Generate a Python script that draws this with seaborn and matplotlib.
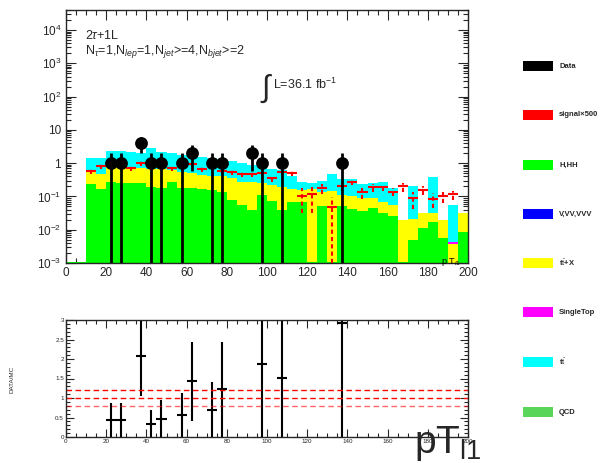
import numpy as np
import pandas as pd
import matplotlib
matplotlib.use("Agg")
import matplotlib.pyplot as plt
import matplotlib.ticker as mticker
from matplotlib.patches import Rectangle
import seaborn as sns

# 40 bins of 5 GeV in pT of leading lepton
bin_edges = list(range(0, 205, 5))
bin_centers = np.arange(2.5, 200, 5)

# stacked backgrounds (bin 0..39)
h_hh = [0.0011, 0.0011, 0.23, 0.165, 0.27, 0.25, 0.25, 0.245, 0.19, 0.18,
        0.27, 0.18, 0.177, 0.17, 0.16, 0.14, 0.079, 0.057, 0.04, 0.11,
        0.075, 0.04, 0.067, 0.067, 0.0011, 0.05, 0.0011, 0.053, 0.042, 0.036,
        0.044, 0.031, 0.025, 0.0011, 0.005, 0.011, 0.0167, 0.0056, 0.0, 0.0083]
v_vv_vvv = [0.0, 0.0, 0.0, 0.0, 0.0, 0.0, 0.0, 0.0, 0.0, 0.0,
            0.0, 0.0, 0.0, 0.0, 0.0, 0.0, 0.0, 0.0, 0.0, 0.0,
            0.0, 0.0, 0.0, 0.0, 0.0, 0.0, 0.0, 0.0, 0.0, 0.0,
            0.0, 0.0, 0.0, 0.0, 0.0, 0.0, 0.0, 0.0, 0.0, 0.0]
ttx = [0.0, 0.0, 0.33, 0.315, 0.49, 0.51, 0.46, 0.465, 0.48, 0.49,
       0.37, 0.38, 0.323, 0.28, 0.24, 0.26, 0.271, 0.223, 0.24, 0.14,
       0.145, 0.15, 0.103, 0.093, 0.169, 0.09, 0.149, 0.054, 0.058, 0.054,
       0.046, 0.036, 0.032, 0.019, 0.016, 0.021, 0.0153, 0.0134, 0.0037, 0.0227]
single_top = [0.0, 0.0, 0.0, 0.0, 0.0, 0.0, 0.0, 0.0, 0.0, 0.0,
              0.0, 0.0, 0.0, 0.0, 0.0, 0.0, 0.0, 0.0, 0.0, 0.0,
              0.0, 0.0, 0.0, 0.0, 0.0, 0.0, 0.0, 0.0, 0.0, 0.0,
              0.0, 0.0, 0.0, 0.0, 0.0, 0.0, 0.0, 0.0, 0.0006, 0.0]
ttbar = [0.0, 0.0, 0.9, 0.95, 1.64, 1.64, 1.39, 1.29, 2.28, 1.53,
         1.41, 1.22, 1.09, 1.03, 1.01, 0.87, 0.83, 0.72, 0.62, 0.55,
         0.46, 0.43, 0.23, 0.12, 0.09, 0.16, 0.33, 0.233, 0.23, 0.15,
         0.16, 0.20, 0.123, 0.0, 0.19, 0.0, 0.34, 0.0, 0.051, 0.0]
qcd = [0.0, 0.0, 0.0, 0.0, 0.0, 0.0, 0.0, 0.0, 0.0, 0.0,
       0.0, 0.0, 0.0, 0.0, 0.0, 0.0, 0.0, 0.0, 0.0, 0.0,
       0.0, 0.0, 0.0, 0.0, 0.0, 0.0, 0.0, 0.0, 0.0, 0.0,
       0.0, 0.0, 0.0, 0.0, 0.0, 0.0, 0.0, 0.0, 0.0, 0.0]

# signal x500 (red crosses)
signal_x500 = [np.nan, np.nan, 0.6, 0.81, 0.95, 0.95, 0.72, 1.0, 0.97, 0.95,
               0.72, 1.0, 0.97, 0.67, 0.89, 0.6, 0.56, 0.48, 0.48, 0.51,
               0.36, 0.53, 0.51, 0.106, 0.117, 0.177, 0.047, 0.2, 0.28, 0.134,
               0.19, 0.19, 0.14, 0.2, 0.088, 0.157, 0.084, 0.1, 0.115, np.nan]
signal_err = [0.0, 0.0, 0.12, 0.15, 0.18, 0.18, 0.14, 0.18, 0.18, 0.18,
              0.14, 0.18, 0.18, 0.13, 0.16, 0.12, 0.11, 0.1, 0.1, 0.1,
              0.08, 0.1, 0.1, 0.075, 0.085, 0.06, 0.046, 0.05, 0.06, 0.05,
              0.05, 0.04, 0.04, 0.06, 0.045, 0.05, 0.04, 0.035, 0.035, 0.0]

# data
data_pt = [22.5, 27.5, 37.5, 42.5, 47.5, 57.5, 62.5, 72.5, 77.5, 92.5, 97.5, 107.5, 137.5]
data_n = [1, 1, 4, 1, 1, 1, 2, 1, 1, 2, 1, 1, 1]

# data / MC
ratio_pt = [22.5, 27.5, 37.5, 42.5, 47.5, 57.5, 62.5, 72.5, 77.5, 97.5, 107.5, 137.5]
ratio_val = [0.43, 0.43, 2.07, 0.34, 0.47, 0.56, 1.43, 0.70, 1.22, 1.88, 1.52, 2.92]
ratio_err = [0.43, 0.43, 1.03, 0.34, 0.47, 0.56, 1.01, 0.70, 1.22, 1.88, 1.52, 2.92]

sns.set_style("ticks")
plt.rcParams["font.family"] = ["Liberation Sans", "DejaVu Sans"]
plt.rcParams["mathtext.fontset"] = "custom"
plt.rcParams["mathtext.rm"] = "Liberation Sans"
plt.rcParams["mathtext.it"] = "Liberation Sans:italic"
plt.rcParams["mathtext.bf"] = "Liberation Sans:bold"

W, H = 603, 463
fig = plt.figure(figsize=(W / 100, H / 100), dpi=100)
ax = fig.add_axes([66 / W, 1 - 263 / H, 402 / W, 253 / H])
axr = fig.add_axes([66 / W, 1 - 437 / H, 402 / W, 117 / H])

procs = ["QCD", "ttbar", "SingleTop", "ttX", "V,VV,VVV", "H,HH"]  # top -> bottom
colors = {"QCD": "#59d659", "ttbar": "#00ffff", "SingleTop": "#ff00ff",
          "ttX": "#ffff00", "V,VV,VVV": "#0000ff", "H,HH": "#00ff00"}
vals = {"QCD": qcd, "ttbar": ttbar, "SingleTop": single_top,
        "ttX": ttx, "V,VV,VVV": v_vv_vvv, "H,HH": h_hh}
bkg = pd.DataFrame({
    "pt": np.concatenate([bin_centers for p in procs]),
    "w": np.concatenate([vals[p] for p in procs]),
    "proc": np.repeat(procs, len(bin_centers)),
})

sns.histplot(data=bkg, x="pt", weights="w", hue="proc", hue_order=procs,
             palette=colors, multiple="stack", bins=bin_edges, element="bars",
             alpha=1, linewidth=0, antialiased=False, legend=False, ax=ax)
ax.set_yscale("log")

# signal crosses
sig = ax.errorbar(bin_centers, signal_x500, xerr=2.5, yerr=signal_err, fmt="none",
                  ecolor="red", elinewidth=1.5, capsize=0, zorder=4)
sig[2][1].set_linestyle((0, (2, 1.5)))

# data
ax.errorbar(data_pt, data_n, yerr=np.sqrt(data_n), fmt="none", ecolor="black",
            elinewidth=2.0, capsize=0, zorder=5)
sns.scatterplot(x=data_pt, y=data_n, color="black", s=85, marker="o",
                edgecolor="black", linewidth=0, zorder=6, ax=ax)

ax.set_xlim(0, 200)
ax.set_ylim(1e-3, 4e4)
ax.set_xlabel("")
ax.set_ylabel("")
ax.set_yticks([1e-3, 1e-2, 1e-1, 1, 10, 1e2, 1e3, 1e4])
ax.set_yticklabels([r"$10^{-3}$", r"$10^{-2}$", r"$10^{-1}$", "1", "10",
                    r"$10^{2}$", r"$10^{3}$", r"$10^{4}$"])
ax.yaxis.set_minor_locator(mticker.LogLocator(base=10, subs=np.arange(2, 10), numticks=100))
ax.yaxis.set_minor_formatter(mticker.NullFormatter())
ax.xaxis.set_major_locator(mticker.MultipleLocator(20))
ax.xaxis.set_minor_locator(mticker.MultipleLocator(5))
ax.tick_params(which="both", direction="in", top=True, right=True, labelsize=8.5, width=0.8)
ax.tick_params(which="major", length=7)
ax.tick_params(which="minor", length=3.5)
ax.tick_params(axis="x", pad=3)
for s in ax.spines.values():
    s.set_linewidth(1.0)

# ratio panel
axr.errorbar(ratio_pt, ratio_val, xerr=2.5, yerr=ratio_err, fmt="none",
             ecolor="black", elinewidth=1.5, capsize=0)
for lvl, a in [(1.2, 1.0), (1.0, 1.0), (0.8, 0.6)]:
    axr.axhline(lvl, color="red", ls=(0, (4, 2.5)), lw=1.0, alpha=a)
axr.set_xlim(0, 200)
axr.set_ylim(0, 3)
axr.xaxis.set_major_locator(mticker.MultipleLocator(20))
axr.xaxis.set_minor_locator(mticker.MultipleLocator(5))
axr.yaxis.set_major_locator(mticker.MultipleLocator(0.5))
axr.yaxis.set_minor_locator(mticker.MultipleLocator(0.1))
axr.yaxis.set_major_formatter(mticker.FuncFormatter(lambda v, p: f"{v:g}"))
axr.tick_params(which="both", direction="in", top=True, right=True, labelsize=4.5, width=0.8, pad=1.5)
axr.tick_params(which="major", length=6)
axr.tick_params(which="minor", length=3)
for s in axr.spines.values():
    s.set_linewidth(1.0)

# texts
fig.text(85 / W, 1 - 39 / H, r"2$\tau$+1L", fontsize=9)
fig.text(85 / W, 1 - 54 / H,
         r"N$_{\tau}$=1,N$_{lep}$=1,N$_{jet}$>=4,N$_{bjet}$>=2", fontsize=9)
fig.text(261 / W, 1 - 97 / H, "\u222b", fontsize=22)
fig.text(273 / W, 1 - 89 / H, r"L=36.1 fb$^{-1}$", fontsize=9)
fig.text(441 / W, 1 - 264 / H, r"p T$_{l1}$", fontsize=6.5, color="black", zorder=0)
fig.text(10 / W, 1 - 392 / H, "DATA/MC", rotation=90, fontsize=4.5)
fig.text(414 / W, 1 - 453 / H, r"pT$_{\rm l1}$", fontsize=28)

# legend column
leg = [("Data", "black"), ("signal\u00d7500", "red"), ("H,HH", "#00ff00"),
       ("V,VV,VVV", "#0000ff"), (r"t$\bar{\rm t}$+X", "#ffff00"),
       ("SingleTop", "#ff00ff"), (r"t$\bar{\rm t}$", "#00ffff"), ("QCD", "#59d659")]
ys = [66, 115, 165, 214, 263, 312, 362, 412]
for (lab, c), yc in zip(leg, ys):
    fig.patches.append(Rectangle((523 / W, 1 - (yc + 5) / H), 30 / W, 10 / H,
                                 transform=fig.transFigure, facecolor=c,
                                 edgecolor="none"))
    fig.text(559 / W, 1 - yc / H, lab, fontsize=5.5, fontweight="bold", va="center")

fig.savefig("out.png", dpi=100)
